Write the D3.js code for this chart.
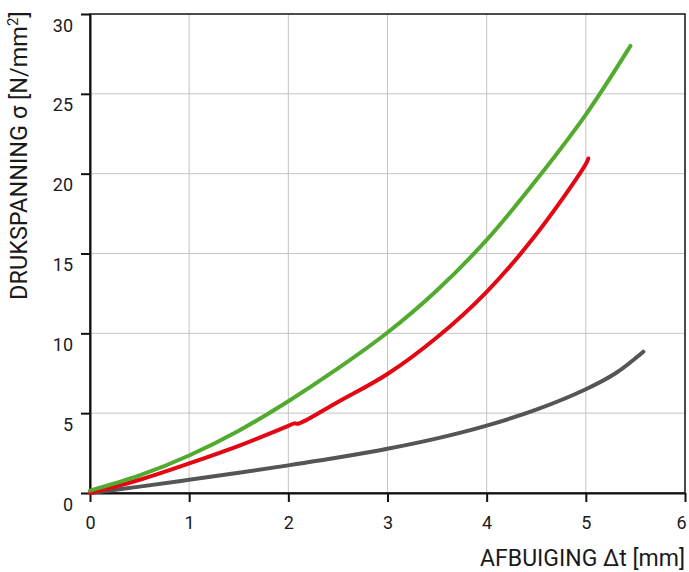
<!DOCTYPE html>
<html>
<head>
<meta charset="utf-8">
<script src="https://cdn.jsdelivr.net/npm/d3@7"></script>
<style>
  body { margin: 0; background: #fff; }
  text { font-family: Roboto, "DejaVu Sans", sans-serif; fill: #1a1a1a; }
</style>
</head>
<body>
<svg width="689" height="572"></svg>
<script>
// deflection (mm) readings per curve
const greenX = [0, 0.5, 1, 1.5, 2, 2.5, 3, 3.5, 4, 4.5, 5, 5.45];
const greenY = [0.15, 1.1, 2.35, 3.9, 5.75, 7.8, 10.05, 12.7, 15.85, 19.6, 23.7, 28.0];

const redX = [0, 0.5, 1, 1.5, 2, 2.06, 2.1, 2.5, 3, 3.5, 4, 4.5, 5, 5.025];
const redY = [0, 0.83, 1.85, 2.95, 4.2, 4.36, 4.34, 5.7, 7.45, 9.75, 12.6, 16.2, 20.6, 20.95];

const greyX = [0, 0.5, 1, 1.5, 2, 2.5, 3, 3.5, 4, 4.5, 5, 5.3, 5.58];
const greyY = [0, 0.4, 0.83, 1.27, 1.73, 2.22, 2.77, 3.42, 4.22, 5.22, 6.5, 7.5, 8.85];

const xTicks = [0, 1, 2, 3, 4, 5, 6];
const yTicks = [0, 5, 10, 15, 20, 25, 30];

const series = [
  { name: 'grey', color: '#555555', xs: greyX, ys: greyY },
  { name: 'red', color: '#e30613', xs: redX, ys: redY },
  { name: 'green', color: '#52ab2f', xs: greenX, ys: greenY }
];

const svg = d3.select('svg');
const plotLeft = 90, plotRight = 685, plotTop = 14, plotBottom = 493;

const x = d3.scaleLinear().domain([0, 6]).range([plotLeft, plotRight]);
const y = d3.scaleLinear().domain([0, 30]).range([plotBottom, plotTop]);

// grid
svg.append('g')
  .selectAll('line').data(xTicks.slice(1, -1)).join('line')
    .attr('x1', d => x(d)).attr('x2', d => x(d))
    .attr('y1', plotTop).attr('y2', plotBottom)
    .attr('stroke', '#c4c4c4').attr('stroke-width', 1);
svg.append('g')
  .selectAll('line').data(yTicks.slice(1, -1)).join('line')
    .attr('x1', plotLeft).attr('x2', plotRight)
    .attr('y1', d => y(d)).attr('y2', d => y(d))
    .attr('stroke', '#c4c4c4').attr('stroke-width', 1);

// frame
svg.append('rect')
  .attr('x', plotLeft).attr('y', plotTop)
  .attr('width', plotRight - plotLeft).attr('height', plotBottom - plotTop)
  .attr('fill', 'none').attr('stroke', '#111').attr('stroke-width', 1.5);

// axes
const xAxis = svg.append('g')
  .attr('transform', `translate(0,${plotBottom})`)
  .call(d3.axisBottom(x).tickValues(xTicks).tickFormat(d3.format('d'))
    .tickSize(9).tickPadding(14).tickSizeOuter(0));
const yAxis = svg.append('g')
  .attr('transform', `translate(${plotLeft},0)`)
  .call(d3.axisLeft(y).tickValues(yTicks).tickFormat(d3.format('d'))
    .tickSize(9).tickPadding(8).tickSizeOuter(0));

[xAxis, yAxis].forEach(g => {
  g.select('.domain').attr('stroke', '#111').attr('stroke-width', 2);
  g.selectAll('.tick line').attr('stroke', '#111').attr('stroke-width', 2);
  g.selectAll('.tick text')
    .style('font-family', 'Roboto, sans-serif')
    .attr('font-size', 18).attr('fill', '#1a1a1a');
});
yAxis.selectAll('.tick text').attr('dy', '0.95em');
// keep the last x label inside the window
xAxis.selectAll('.tick text').filter(d => d === 6).attr('dx', -4);

// curves
const line = d3.line()
  .x(d => x(d[0]))
  .y(d => y(d[1]))
  .curve(d3.curveCatmullRom.alpha(0.5));

series.forEach(s => {
  const pts = s.xs.map((v, i) => [v, s.ys[i]]);
  svg.append('path')
    .datum(pts)
    .attr('d', line)
    .attr('fill', 'none')
    .attr('stroke', s.color)
    .attr('stroke-width', 4)
    .attr('stroke-linecap', 'round')
    .attr('stroke-linejoin', 'round');
});

// axis titles
svg.append('text')
  .attr('x', plotRight).attr('y', 566)
  .attr('text-anchor', 'end')
  .attr('font-size', 23)
  .text('AFBUIGING \u0394t [mm]');

svg.append('text')
  .attr('transform', 'translate(27,300) rotate(-90)')
  .attr('text-anchor', 'start')
  .attr('font-size', 23.5)
  .html('DRUKSPANNING \u03c3 [N/mm<tspan dy="-9" font-size="15">2</tspan><tspan dy="9">]</tspan>');
</script>
</body>
</html>
